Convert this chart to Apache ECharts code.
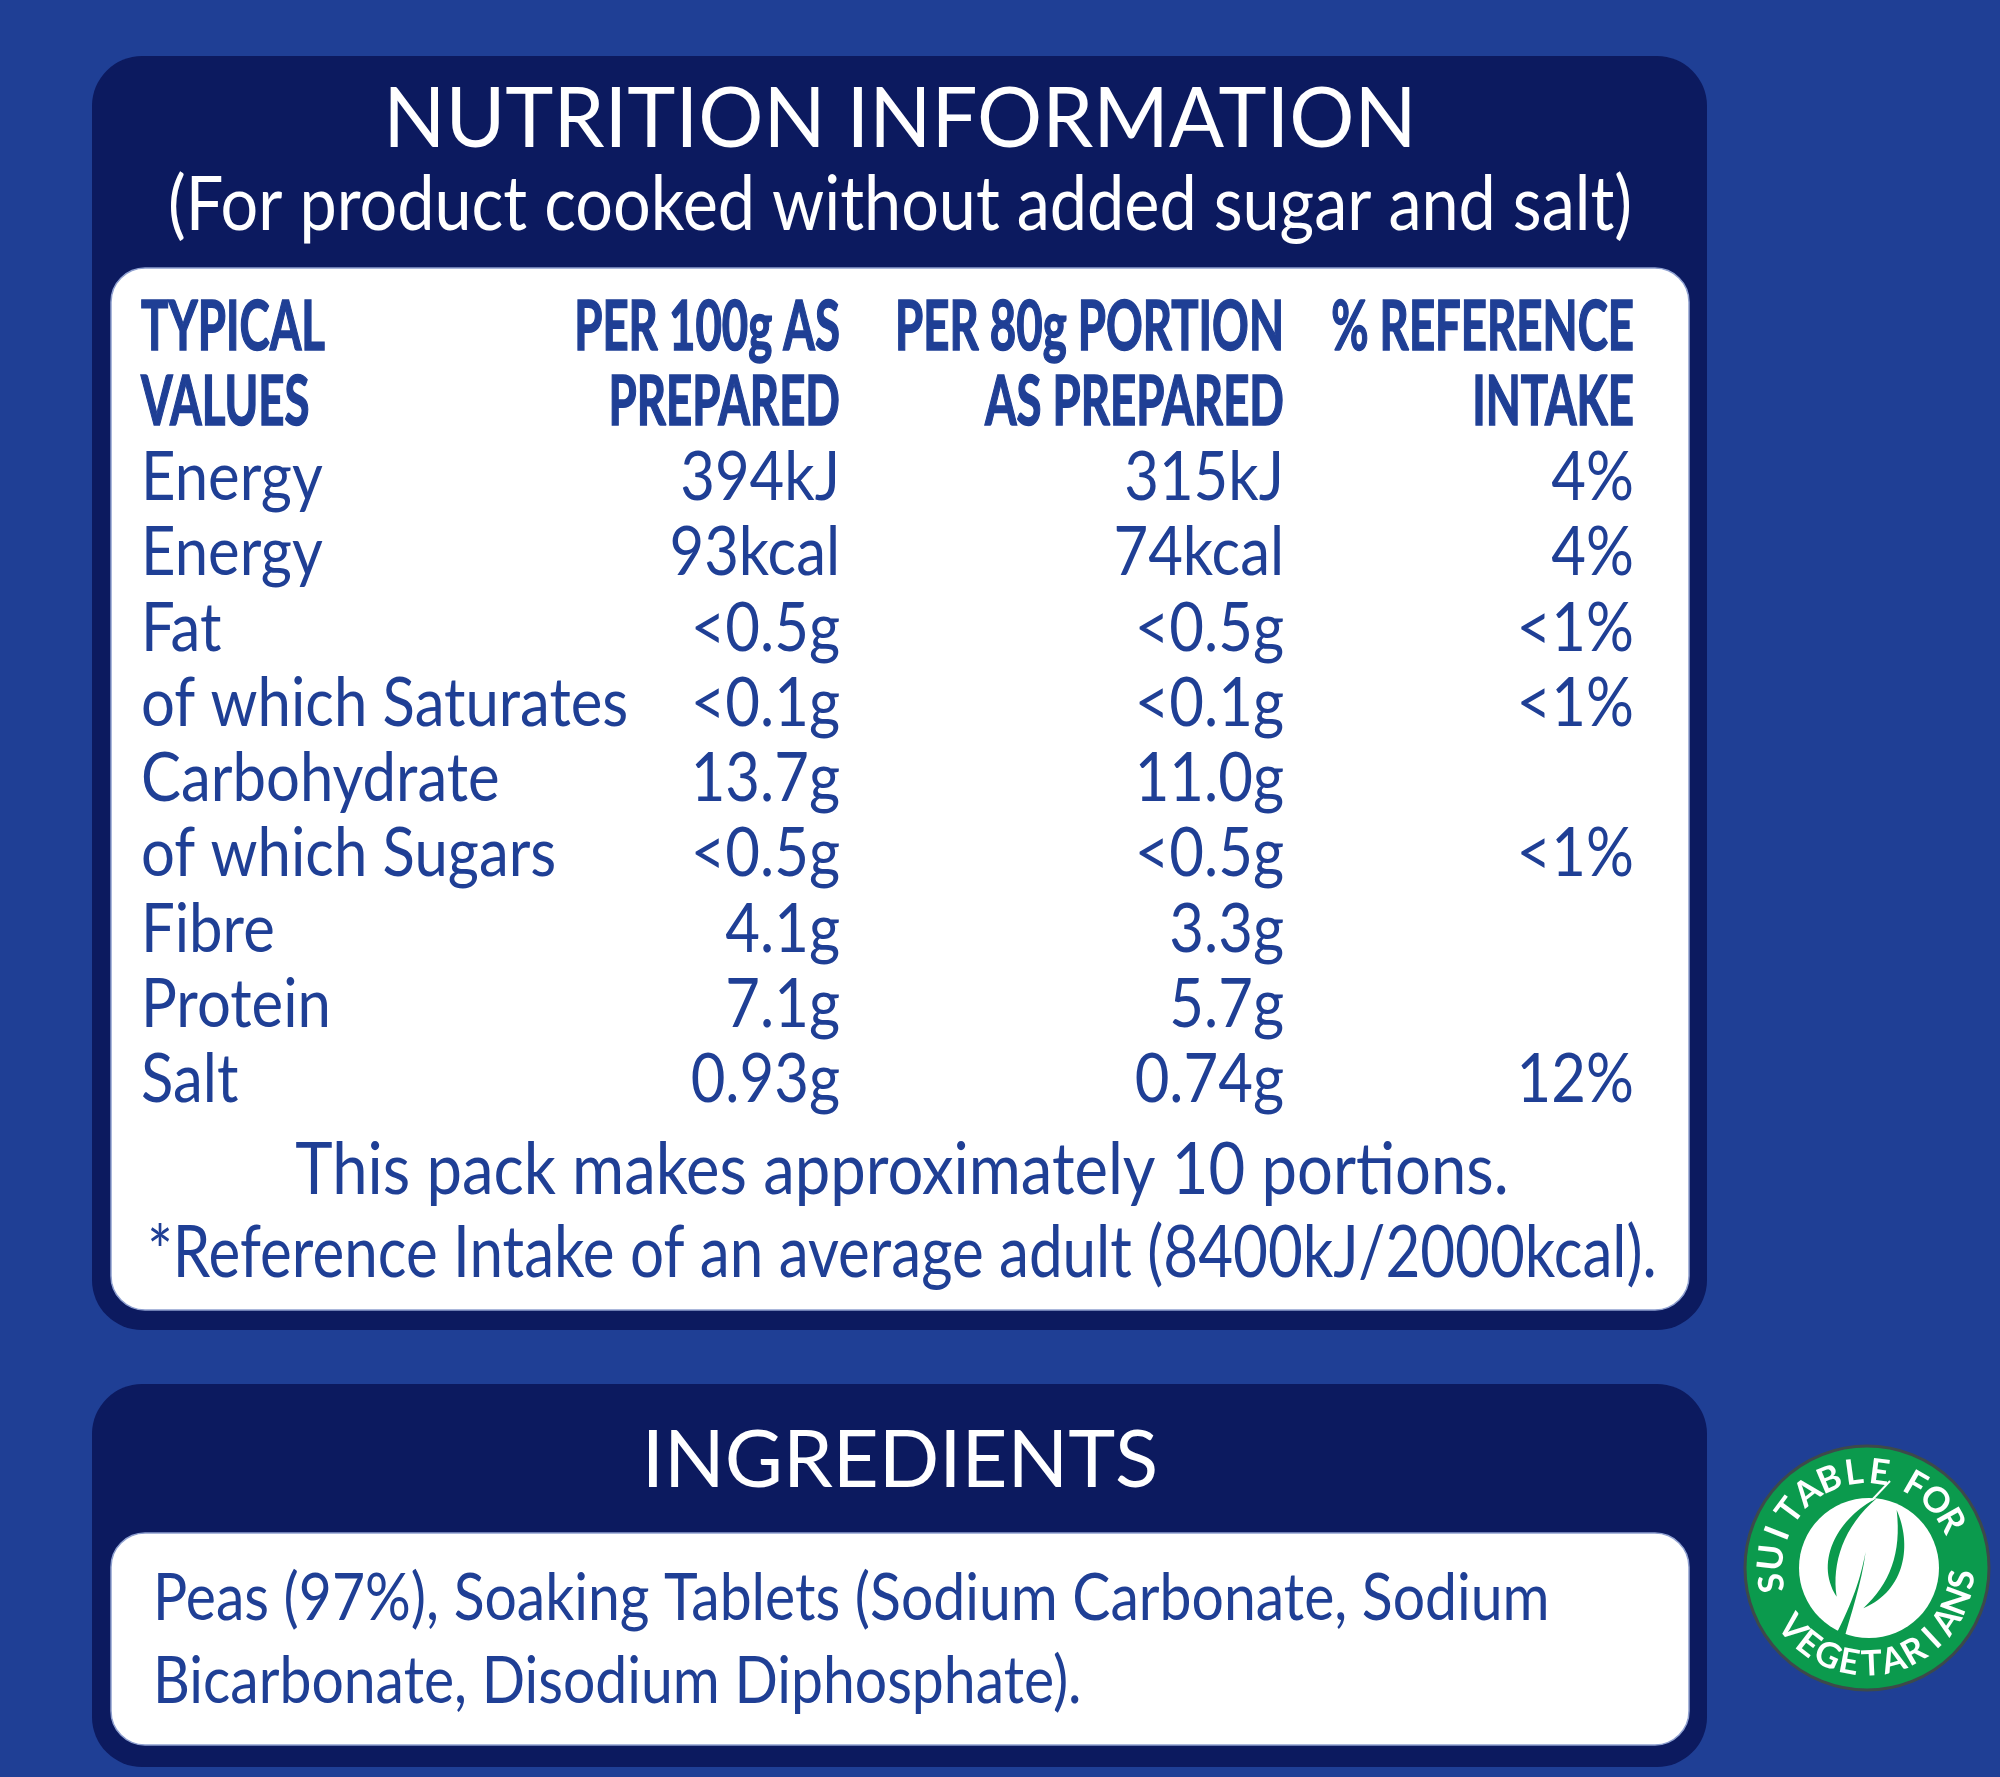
<!DOCTYPE html>
<html><head><meta charset="utf-8">
<style>html,body{margin:0;padding:0;background:#1f3f95}#c{width:2000px;height:1777px}</style>
<script src="https://cdn.jsdelivr.net/npm/echarts@6/dist/echarts.min.js"></script>
</head><body><div id="c"></div>
<script>
var title = 'NUTRITION INFORMATION';
var subtitle = '(For product cooked without added sugar and salt)';
var headerCol0 = ['TYPICAL', 'VALUES'];
var headerCol1 = ['PER 100g AS', 'PREPARED'];
var headerCol2 = ['PER 80g PORTION', 'AS PREPARED'];
var headerCol3 = ['% REFERENCE', 'INTAKE'];
var nutrients = ['Energy', 'Energy', 'Fat', 'of which Saturates', 'Carbohydrate', 'of which Sugars', 'Fibre', 'Protein', 'Salt'];
var per100g = ['394kJ', '93kcal', '<0.5g', '<0.1g', '13.7g', '<0.5g', '4.1g', '7.1g', '0.93g'];
var per80g = ['315kJ', '74kcal', '<0.5g', '<0.1g', '11.0g', '<0.5g', '3.3g', '5.7g', '0.74g'];
var refIntake = ['4%', '4%', '<1%', '<1%', '', '<1%', '', '', '12%'];
var footnotes = ['This pack makes approximately 10 portions.', '*Reference Intake of an average adult (8400kJ/2000kcal).'];
var ingredientsTitle = 'INGREDIENTS';
var ingredientLines = ['Peas (97%), Soaking Tablets (Sodium Carbonate, Sodium', 'Bicarbonate, Disodium Diphosphate).'];
var badgeTop = 'SUITABLE FOR';
var badgeBottom = 'VEGETARIANS';

var BG = '#1f3f95', DARK = '#0c1a5f', INK = '#1f3f95', GREEN = '#0b9a4d', FONT = 'Lato';
var rows = [0, 1].map(function (i) { return [headerCol0[i], headerCol1[i], headerCol2[i], headerCol3[i], true]; })
  .concat(nutrients.map(function (n, i) { return [n, per100g[i], per80g[i], refIntake[i], false]; }));
var colX = [141, 840, 1284, 1634];
var rowNames = rows.map(function (r, i) { return String(i); });

echarts.graphic.registerShape('badgeLeaf', echarts.graphic.extendShape({
  type: 'badgeLeaf',
  shape: { p: [] },
  buildPath: function (ctx, s) {
    var p = s.p;
    ctx.moveTo(p[0], p[1]);
    for (var i = 2; i + 5 < p.length; i += 6) ctx.bezierCurveTo(p[i], p[i + 1], p[i + 2], p[i + 3], p[i + 4], p[i + 5]);
    ctx.closePath();
  }
}));

function txt(s, x, y, size, color, align, sx, weight) {
  return { type: 'text', x: x, y: y, scaleX: sx, silent: true,
    style: { text: s, fontFamily: FONT, fontSize: size, fill: color, align: align, verticalAlign: 'bottom', fontWeight: weight || 'normal' } };
}
var g = [];
g.push({ type: 'rect', shape: { x: 92, y: 56, width: 1615, height: 1274, r: 50 }, style: { fill: DARK } });
g.push({ type: 'rect', shape: { x: 111, y: 268, width: 1578, height: 1042, r: 34 }, style: { fill: '#fff', stroke: '#8fa0d0', lineWidth: 1.5 } });
g.push({ type: 'rect', shape: { x: 92, y: 1384, width: 1615, height: 383, r: 50 }, style: { fill: DARK } });
g.push({ type: 'rect', shape: { x: 111, y: 1533, width: 1578, height: 212, r: 34 }, style: { fill: '#fff', stroke: '#8fa0d0', lineWidth: 1.5 } });

function base(y, size) { return y + size * 0.15; }
g.push(txt(title, 900, base(149, 84), 84, '#fff', 'center', 0.97));
g.push(txt(subtitle, 900, base(232, 76), 76, '#fff', 'center', 0.875));
g.push(txt(footnotes[0], 902, base(1196, 72), 72, INK, 'center', 0.88));
g.push(txt(footnotes[1], 902, base(1279, 72), 72, INK, 'center', 0.835));
g.push(txt(ingredientsTitle, 900, base(1489, 80), 80, '#fff', 'center', 0.995));
g.push(txt(ingredientLines[0], 153, base(1622, 66), 66, INK, 'left', 0.865));
g.push(txt(ingredientLines[1], 153, base(1705, 66), 66, INK, 'left', 0.865));

// Badge
var cx = 1867, cy = 1568;
g.push({ type: 'circle', shape: { cx: cx, cy: cy, r: 122 }, style: { fill: GREEN, stroke: '#3d4a4a', lineWidth: 3 } });
g.push({ type: 'circle', shape: { cx: cx + 2, cy: cy, r: 70 }, style: { fill: '#fff' } });
var leaf = [[470,235, 360,290, 280,420, 350,530, 335,430, 370,320, 470,235],
  [530,270, 575,370, 560,510, 430,565, 510,490, 545,400, 530,270],
  [437,395, 420,480, 400,540, 345,650, 352,655, 362,660, 370,665, 390,590, 425,490, 437,395]];
leaf.forEach(function (p) {
  g.push({ type: 'badgeLeaf', x: 1720, y: 1420, scaleX: 1 / 3, scaleY: 1 / 3, shape: { p: p }, style: { fill: GREEN } });
});
g.push({ type: 'line', shape: { x1: 1872, y1: 1500, x2: 1890, y2: 1481 }, style: { stroke: '#fff', lineWidth: 2 } });
function arc(word, startDeg, stepDeg, top) {
  var pos = 0;
  word.split('').forEach(function (ch) {
    if (ch === ' ') { pos += 0.5; return; }
    var a = (startDeg + stepDeg * pos) * Math.PI / 180, r = 96;
    pos += 1;
    g.push({ type: 'text', silent: true,
      x: cx + r * Math.sin(a), y: cy + (top ? -1 : 1) * r * Math.cos(a), rotation: top ? -a : a,
      style: { text: ch, fontFamily: FONT, fontSize: 35, fill: '#fff', align: 'center', verticalAlign: 'middle', fontWeight: 'bold' } });
  });
}
arc(badgeTop, -99, 15.2, true);
arc(badgeBottom, -51, 13.4, false);

var chart = echarts.init(document.getElementById('c'), null, { renderer: 'canvas' });
chart.setOption({
  animation: false, backgroundColor: BG,
  grid: { left: 0, right: 0, top: 290, height: 828 },
  xAxis: { type: 'value', min: 0, max: 2000, show: false },
  yAxis: { type: 'category', data: rowNames, inverse: true, show: false },
  graphic: { elements: g },
  series: [{
    type: 'custom', silent: true, coordinateSystem: 'cartesian2d', z: 10,
    data: rows.map(function (r, i) { return [i]; }),
    encode: { y: 0 },
    renderItem: function (p, api) {
      var i = api.value(0), r = rows[i], children = [];
      for (var c = 0; c < 4; c++) {
        if (!r[c]) continue;
        var pt = api.coord([colX[c], i]);
        children.push({ type: 'text', x: pt[0], y: pt[1], scaleX: r[4] ? 0.67 : 0.88,
          style: { text: r[c], fontFamily: FONT, fontSize: 68, fontWeight: r[4] ? 'bold' : 'normal', fill: INK,
            stroke: r[4] ? INK : null, lineWidth: r[4] ? 1.5 : 0,
            align: c === 0 ? 'left' : 'right', verticalAlign: 'middle' } });
      }
      return { type: 'group', children: children };
    }
  }]
});
</script></body></html>
